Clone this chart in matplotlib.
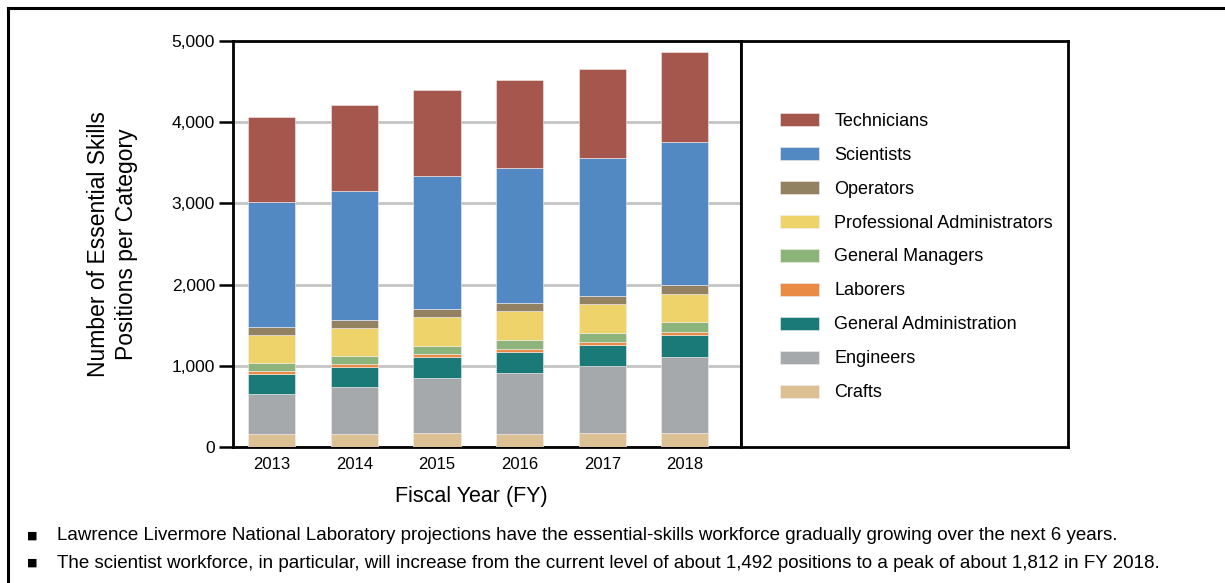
import numpy as np
import matplotlib
matplotlib.use("Agg")
import matplotlib.pyplot as plt
from matplotlib.lines import Line2D

plt.rcParams['font.family'] = ['Liberation Sans', 'DejaVu Sans']

# data (positions per category)
years = ['2013', '2014', '2015', '2016', '2017', '2018']
crafts = [160, 165, 170, 165, 170, 175]
engineers = [495, 575, 678, 748, 823, 938]
gen_admin = [245, 248, 256, 256, 260, 264]
laborers = [40, 37, 37, 42, 37, 41]
gen_managers = [100, 99, 104, 103, 112, 116]
prof_admin = [335, 347, 355, 355, 359, 355]
operators = [100, 95, 103, 104, 104, 104]
scientists = [1545, 1582, 1631, 1659, 1696, 1761]
technicians = [1045, 1058, 1066, 1087, 1098, 1111]

# bottom -> top stacking order
series = [
    ('Crafts', crafts, '#DBC193'),
    ('Engineers', engineers, '#A6A9AB'),
    ('General Administration', gen_admin, '#197A78'),
    ('Laborers', laborers, '#E98B45'),
    ('General Managers', gen_managers, '#8DB47A'),
    ('Professional Administrators', prof_admin, '#EDD36A'),
    ('Operators', operators, '#928261'),
    ('Scientists', scientists, '#5289C2'),
    ('Technicians', technicians, '#A5564D'),
]

fig = plt.figure(figsize=(12.25, 5.83), dpi=100)
W, H = 1225, 583
ax = fig.add_axes([233 / W, 1 - 447 / H, (741 - 233) / W, (447 - 41) / H])
lax = fig.add_axes([741 / W, 1 - 447 / H, (1068 - 741) / W, (447 - 41) / H])

x = np.arange(len(years))
bottom = np.zeros(len(years))
handles = []
for name, vals, col in series:
    b = ax.bar(x, vals, 0.57, bottom=bottom, color=col, label=name,
               edgecolor='#f4eeee', linewidth=0.4, zorder=3)
    handles.append(b)
    bottom += np.array(vals)

ax.set_xlim(-0.47, 5.68)
ax.set_ylim(0, 5000)
ax.set_yticks([0, 1000, 2000, 3000, 4000, 5000])
ax.set_yticklabels(['0', '1,000', '2,000', '3,000', '4,000', '5,000'])
ax.set_xticks(x)
ax.set_xticklabels(years)
ax.tick_params(axis='y', direction='out', length=10, width=1.8, labelsize=12.5, pad=3)
ax.tick_params(axis='x', length=0, labelsize=12, pad=7)
ax.yaxis.grid(True, color='#c4c4c4', linewidth=2, zorder=0)
ax.set_axisbelow(True)
for s in ax.spines.values():
    s.set_linewidth(2)
ax.set_xlabel('Fiscal Year (FY)', fontsize=15.5, labelpad=10, x=0.47)
ax.set_ylabel('Number of Essential Skills\nPositions per Category', fontsize=16.5,
              labelpad=24, linespacing=1.3)

lax.set_xticks([])
lax.set_yticks([])
for s in lax.spines.values():
    s.set_linewidth(2)
lax.legend(handles[::-1], [h.get_label() for h in handles[::-1]],
           loc='center left', bbox_to_anchor=(0.07, 0.468), frameon=False,
           fontsize=13, handlelength=2.16, handleheight=0.72,
           labelspacing=0.94, handletextpad=0.83)

# outer frame
fig.add_artist(Line2D([8 / W, 8 / W], [0, 1 - 8 / H], color='black', lw=2.2))
fig.add_artist(Line2D([8 / W, 1], [1 - 8 / H, 1 - 8 / H], color='black', lw=2.2))

notes = [
    'Lawrence Livermore National Laboratory projections have the essential-skills workforce gradually growing over the next 6 years.',
    'The scientist workforce, in particular, will increase from the current level of about 1,492 positions to a peak of about 1,812 in FY 2018.',
]
for i, t in enumerate(notes):
    yy = 1 - (536 + 27 * i) / H
    fig.text(32 / W, yy, '\u25a0', fontsize=8, va='center', ha='center',
             family=['DejaVu Sans'])
    fig.text(57 / W, yy, t, fontsize=13.5, va='center', ha='left',
             family=['Liberation Sans', 'DejaVu Sans'])

fig.savefig('out.png', dpi=100)
